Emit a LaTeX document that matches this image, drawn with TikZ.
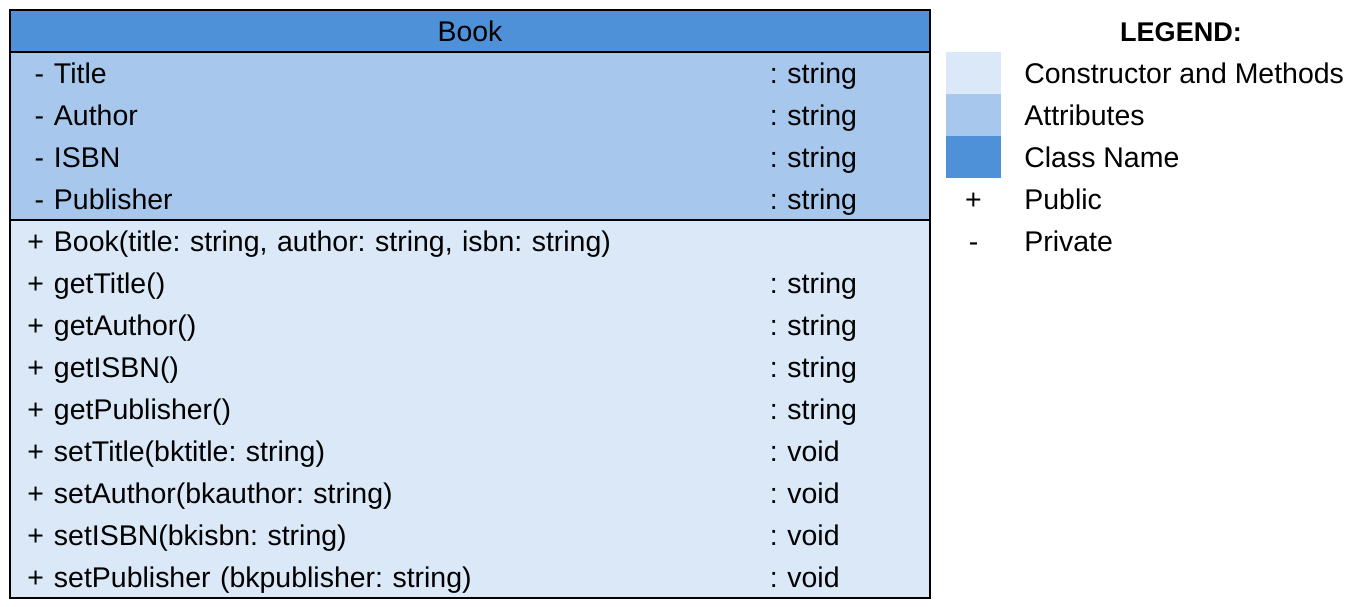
\documentclass[tikz,border=0pt]{standalone}
\usepackage{fontspec}
\setmainfont{Liberation Sans}
\usepackage{tikz}
\usetikzlibrary{positioning}
\definecolor{classblue}{RGB}{78,145,216}
\definecolor{attrblue}{RGB}{167,200,236}
\definecolor{methodblue}{RGB}{218,232,247}
\tikzstyle{classname} = [rectangle, minimum width=18.4cm, minimum height=0.84cm, inner sep=0pt, outer sep=0pt, text centered, draw=black, line width=0.7pt, fill=classblue]
\tikzstyle{attrrow} = [rectangle, minimum width=18.4cm, minimum height=0.84cm, text width=18.4cm, inner sep=0pt, outer sep=0pt, fill=attrblue]
\tikzstyle{methodrow} = [attrrow, fill=methodblue]
\tikzstyle{frame} = [draw=black, line width=0.7pt]
\tikzstyle{swatch} = [rectangle, minimum width=1.1cm, minimum height=0.84cm, inner sep=0pt, outer sep=0pt]
\tikzstyle{keytext} = [inner sep=0pt]
\newcommand{\rowstrut}{\rule[-3pt]{0pt}{18.4pt}}
\newcommand{\member}[3]{\noindent\rowstrut\makebox[0.88cm][r]{#1\hspace{0.2cm}}#2\hfill\makebox[3.2cm][l]{#3}}

\begin{document}
\frenchspacing
\begin{tikzpicture}[node distance=0.84cm, font=\fontsize{16.2}{19}\selectfont\frenchspacing]
\useasboundingbox (0,0) rectangle (27.36,-12.12);
\node (Book) [classname] at (9.4,-0.62) {\rowstrut Book};
\node (Title) [attrrow, below of=Book] {\member{-}{Title}{: string}};
\node (Author) [attrrow, below of=Title] {\member{-}{Author}{: string}};
\node (ISBN) [attrrow, below of=Author] {\member{-}{ISBN}{: string}};
\node (Publisher) [attrrow, below of=ISBN] {\member{-}{Publisher}{: string}};
\node (Ctor) [methodrow, below of=Publisher] {\member{+}{Book(title: string, author: string, isbn: string)}{}};
\node (GetTitle) [methodrow, below of=Ctor] {\member{+}{getTitle()}{: string}};
\node (GetAuthor) [methodrow, below of=GetTitle] {\member{+}{getAuthor()}{: string}};
\node (GetISBN) [methodrow, below of=GetAuthor] {\member{+}{getISBN()}{: string}};
\node (GetPublisher) [methodrow, below of=GetISBN] {\member{+}{getPublisher()}{: string}};
\node (SetTitle) [methodrow, below of=GetPublisher] {\member{+}{setTitle(bktitle: string)}{: void}};
\node (SetAuthor) [methodrow, below of=SetTitle] {\member{+}{setAuthor(bkauthor: string)}{: void}};
\node (SetISBN) [methodrow, below of=SetAuthor] {\member{+}{setISBN(bkisbn: string)}{: void}};
\node (SetPublisher) [methodrow, below of=SetISBN] {\member{+}{setPublisher (bkpublisher: string)}{: void}};

\draw [frame] (Book.north west) rectangle (SetPublisher.south east);
\draw [frame] (Ctor.north west) -- (Ctor.north east);
\draw [frame] (Book.north west) rectangle (Book.south east);

\node (Legend) [font=\fontsize{15.4}{19}\selectfont\bfseries] at (23.62,-0.62) {\rowstrut LEGEND:};
\node (KeyMethods) [swatch, fill=methodblue] at (19.47,-1.46) {};
\node (KeyAttr) [swatch, fill=attrblue, below of=KeyMethods] {};
\node (KeyClass) [swatch, fill=classblue, below of=KeyAttr] {};
\node (KeyPublic) [swatch, below of=KeyClass] {\rowstrut+};
\node (KeyPrivate) [swatch, below of=KeyPublic] {\rowstrut-};
\node (KeyMethodsText) [keytext, right=0.46cm of KeyMethods] {\rowstrut Constructor and Methods};
\node (KeyAttrText) [keytext, right=0.46cm of KeyAttr] {\rowstrut Attributes};
\node (KeyClassText) [keytext, right=0.46cm of KeyClass] {\rowstrut Class Name};
\node (KeyPublicText) [keytext, right=0.46cm of KeyPublic] {\rowstrut Public};
\node (KeyPrivateText) [keytext, right=0.46cm of KeyPrivate] {\rowstrut Private};
\end{tikzpicture}
\end{document}
